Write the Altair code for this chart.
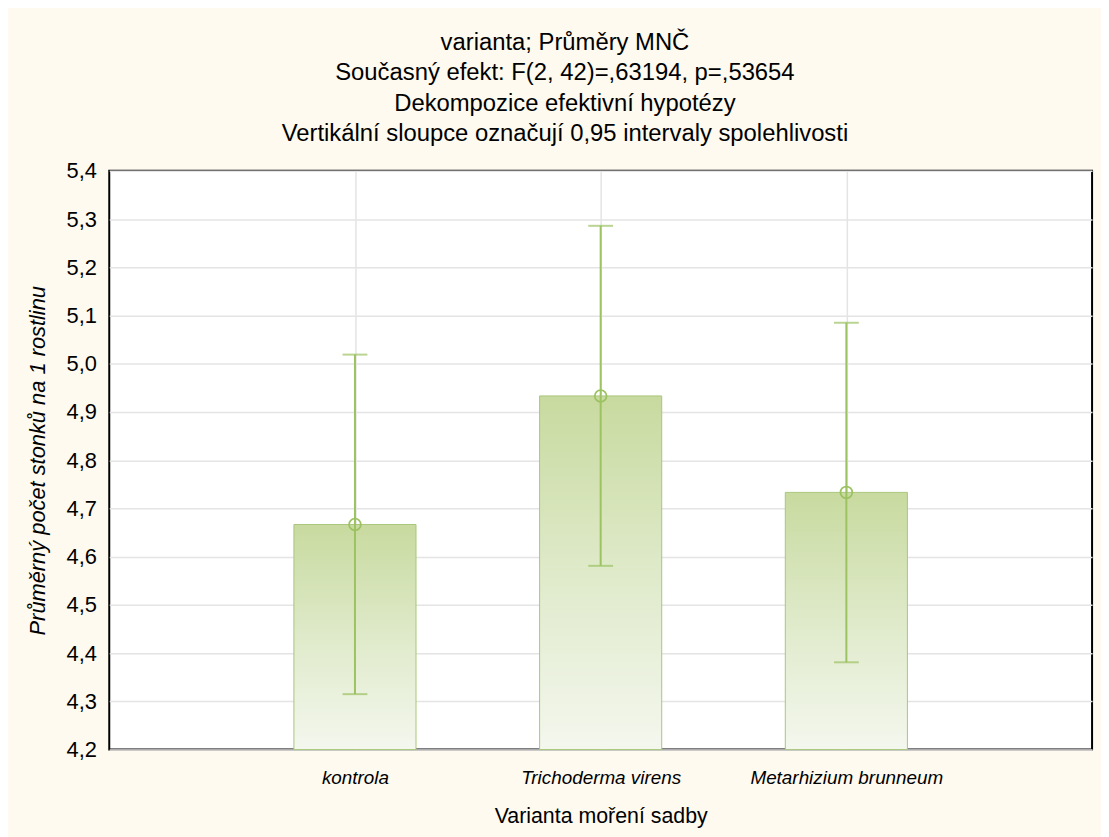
import altair as alt
import pandas as pd

categories = ["kontrola", "Trichoderma virens", "Metarhizium brunneum"]
means = [4.6667, 4.9333, 4.7333]
ci_lower = [4.315, 4.581, 4.381]
ci_upper = [5.019, 5.286, 5.085]
y_ticks = [4.2, 4.3, 4.4, 4.5, 4.6, 4.7, 4.8, 4.9, 5.0, 5.1, 5.2, 5.3, 5.4]

title_lines = [
    "varianta; Průměry MNČ",
    "Současný efekt: F(2, 42)=,63194, p=,53654",
    "Dekompozice efektivní hypotézy",
    "Vertikální sloupce označují 0,95 intervaly spolehlivosti",
]
x_title = "Varianta moření sadby"
y_title = "Průměrný počet stonků na 1 rostlinu"

df = pd.DataFrame({
    "cat": categories,
    "mean": means,
    "lo": ci_lower,
    "hi": ci_upper,
    "base": [y_ticks[0]] * len(categories),
})

FONT = "Liberation Sans"
GREEN = "#9cc262"

x_enc = alt.X(
    "cat:N",
    sort=categories,
    scale=alt.Scale(type="point", padding=1),
    axis=alt.Axis(
        title=x_title,
        labelFontStyle="italic",
        labelFontSize=19,
        labelFont=FONT,
        labelColor="black",
        labelPadding=19,
        labelAngle=0,
        labelLimit=0,
        titleFont=FONT,
        titleFontSize=21.5,
        titleFontWeight="normal",
        titleColor="black",
        titlePadding=18,
        grid=True,
        gridColor="#e4e4e4",
        gridWidth=1.5,
        ticks=False,
        domain=False,
    ),
)

y_scale = alt.Scale(domain=[y_ticks[0], y_ticks[-1]], zero=False, nice=False)
y_axis = alt.Axis(
    title=y_title,
    values=y_ticks,
    labelExpr="replace(format(datum.value, '.1f'), '.', ',')",
    labelFont=FONT,
    labelFontSize=22,
    labelColor="black",
    labelPadding=13,
    ticks=False,
    domain=False,
    grid=True,
    gridColor="#e4e4e4",
    gridWidth=1.5,
    titleFont=FONT,
    titleFontSize=22,
    titleFontStyle="italic",
    titleFontWeight="normal",
    titleColor="black",
    titlePadding=17,
)

base = alt.Chart(df)

bars = base.mark_bar(
    size=123,
    stroke="#a9c77a",
    strokeWidth=1,
    color=alt.Gradient(
        gradient="linear",
        stops=[
            alt.GradientStop(color="#c8da9f", offset=0),
            alt.GradientStop(color="#dfeaca", offset=0.5),
            alt.GradientStop(color="#f4f7ee", offset=1),
        ],
        x1=0, x2=0, y1=0, y2=1,
    ),
).encode(
    x=x_enc,
    y=alt.Y("mean:Q", scale=y_scale, axis=y_axis),
    y2=alt.Y2("base:Q"),
)

rules = base.mark_rule(color=GREEN, strokeWidth=2).encode(
    x=alt.X("cat:N", sort=categories),
    y=alt.Y("lo:Q"),
    y2=alt.Y2("hi:Q"),
)

cap_lo = base.mark_tick(color=GREEN, orient="horizontal", size=25, thickness=2).encode(
    x=alt.X("cat:N", sort=categories),
    y=alt.Y("lo:Q"),
)
cap_hi = base.mark_tick(color=GREEN, orient="horizontal", size=25, thickness=2).encode(
    x=alt.X("cat:N", sort=categories),
    y=alt.Y("hi:Q"),
)

points = base.mark_point(shape="circle", filled=False, color=GREEN, size=140, strokeWidth=1.8, opacity=1).encode(
    x=alt.X("cat:N", sort=categories),
    y=alt.Y("mean:Q"),
)

chart = alt.layer(bars, rules, cap_lo, cap_hi, points).properties(
    width=990,
    height=583,
    autosize=alt.AutoSizeParams(type="none"),
    padding={"left": 102, "top": 161, "right": 9, "bottom": 85},
    background="#fefaf0",
    title=alt.TitleParams(
        text=title_lines,
        font=FONT,
        fontSize=24,
        fontWeight="normal",
        color="black",
        anchor="middle",
        lineHeight=30.7,
        offset=14,
        dx=-36,
    ),
).configure_view(
    fill="white",
    stroke="black",
    strokeWidth=2,
)

chart.save("out.html", embed_options={"renderer": "svg", "actions": False})
